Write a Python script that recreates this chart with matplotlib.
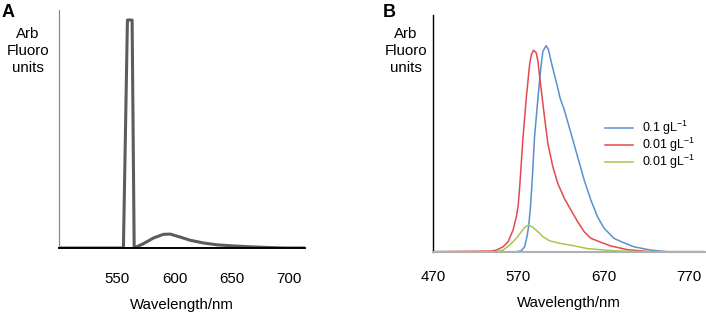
import numpy as np
import matplotlib.pyplot as plt

plt.rcParams['font.family'] = ['Liberation Sans', 'DejaVu Sans']
plt.rcParams['mathtext.default'] = 'regular'

# panel A: single emission spectrum (arb units, peak = 100)
wl_a = [499, 555.3, 558.8, 562.9, 564.7, 572.8, 581.6, 590.3, 596.2, 604.9,
        613.6, 625.3, 637.0, 648.6, 663.2, 677.7, 695.2, 714]
fl_a = [0, 0, 100, 100, 0, 1.9, 4.4, 6.0, 6.1, 4.8,
        3.4, 2.2, 1.4, 1.0, 0.6, 0.3, 0, 0]

# panel B: three spectra (arb units, blue peak = 100)
wl_blue = [470, 567.8, 573.6, 577.5, 580.2, 582.1, 584.4, 586.5, 589.1, 593.1,
           594.9, 596.9, 598.9, 602.7, 605.4, 608.5, 612.4, 616.3, 619.0, 624.0,
           631.8, 639.6, 647.3, 655.1, 662.9, 670.6, 682.2, 690.0, 705.5, 725.0,
           744.4, 790]
fl_blue = [0, 0, 0.5, 2.4, 7.3, 12.1, 22, 36, 55.8, 74.6,
           82.7, 90.8, 97.3, 100, 98.1, 92.4, 85.9, 79.5, 74.6, 68.8,
           57.5, 46.1, 34.8, 25.1, 17.0, 11.4, 6.5, 5.0, 2.4, 0.8,
           0, 0]

wl_red = [470, 538.7, 544.5, 552.3, 558.1, 563.9, 567.8, 569.8, 571.6, 575.6,
          579.4, 583.3, 585.3, 587.9, 591.1, 593.1, 595.7, 598.1, 600.7, 604.7,
          610.5, 616.3, 624.0, 631.8, 639.6, 647.3, 655.1, 666.7, 678.4, 697.8,
          725, 790]
fl_red = [0, 0.3, 0.8, 2.4, 4.9, 10.5, 17.0, 22, 31, 55.8,
          74.6, 90.8, 95.6, 97.8, 96.5, 92.4, 82.7, 74.6, 65.5, 52.6,
          41.3, 33.2, 25.9, 20.2, 14.6, 9.7, 6.5, 4.6, 2.8, 1.0,
          0, 0]

wl_green = [470, 544.5, 552.3, 560.0, 567.8, 573.6, 577.5, 582.1, 587.2, 593.1,
            598.9, 606.6, 618.2, 633.8, 651.3, 674.5, 690, 720, 790]
fl_green = [0, 0, 0.8, 3.3, 6.5, 9.7, 11.8, 13.0, 11.8, 9.7,
            7.3, 5.3, 4.1, 3.0, 1.5, 0.7, 0.3, 0, 0]

labels_b = ['0.1 gL$^{-1}$', '0.01 gL$^{-1}$', '0.01 gL$^{-1}$']
colors_b = ['#5b8fd0', '#e2494e', '#a9c452']

fs = 10.8
fig = plt.figure(figsize=(7.06, 3.14), dpi=100)

# ---- panel A
axA = fig.add_axes([59 / 706, 1 - 248 / 314, 246 / 706, 238 / 314])
axA.plot(wl_a, fl_a, color='#5c5c5c', lw=2.2, solid_joinstyle='round', zorder=2)
axA.set_xlim(499, 714)
axA.set_ylim(0, 104.4)
axA.set_xticks([550, 600, 650, 700])
axA.set_yticks([])
axA.tick_params(axis='x', length=0, labelsize=fs, pad=17)
for s in ['top', 'right']:
    axA.spines[s].set_visible(False)
axA.spines['left'].set_color('#8a8a8a')
axA.spines['left'].set_linewidth(0.9)
axA.spines['bottom'].set_color('black')
axA.spines['bottom'].set_linewidth(1.4)
axA.spines['bottom'].set_zorder(3)
axA.set_xlabel('Wavelength/nm', fontsize=fs, labelpad=9)

# ---- panel B
axB = fig.add_axes([433 / 706, 1 - 251.7 / 314, 272 / 706, 236.7 / 314])
for wl, fl, c, lab in zip([wl_blue, wl_red, wl_green], [fl_blue, fl_red, fl_green],
                          colors_b, labels_b):
    axB.plot(wl, fl, color=c, lw=1.1, label=lab, solid_joinstyle='round')
axB.set_xlim(472.3, 789)
axB.set_ylim(0, 114.9)
axB.set_xticks([470, 570, 670, 770])
axB.set_yticks([])
axB.tick_params(axis='x', length=0, labelsize=fs, pad=13)
for s in ['top', 'right']:
    axB.spines[s].set_visible(False)
axB.spines['left'].set_color('black')
axB.spines['left'].set_linewidth(1.0)
axB.spines['bottom'].set_color('#b0b0b0')
axB.spines['bottom'].set_linewidth(1.5)
axB.set_xlabel('Wavelength/nm', fontsize=fs, labelpad=9)
axB.legend(loc='upper left', bbox_to_anchor=(605 / 706, 1 - 119 / 314),
           bbox_transform=fig.transFigure, frameon=False, fontsize=9,
           handlelength=2.2, handletextpad=0.8, labelspacing=-0.1,
           borderpad=0, borderaxespad=0)

# axis titles and panel letters
fig.text(28 / 706, 1 - 51 / 314, 'Arb\nFluoro\nunits', ha='center', va='center',
         fontsize=fs, linespacing=1.25)
fig.text(406 / 706, 1 - 51 / 314, 'Arb\nFluoro\nunits', ha='center', va='center',
         fontsize=fs, linespacing=1.25)
fig.text(2 / 706, 1 - 4 / 314, 'A', ha='left', va='top', fontsize=13, fontweight='bold')
fig.text(383 / 706, 1 - 4 / 314, 'B', ha='left', va='top', fontsize=13, fontweight='bold')

fig.savefig('out.png', dpi=100)
